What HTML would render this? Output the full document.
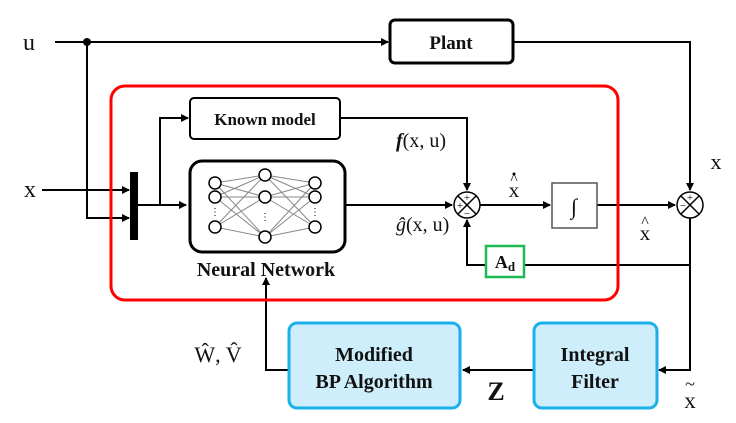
<!DOCTYPE html><html><head><style>
body{margin:0;background:#fff}
svg text{font-family:"Liberation Serif",serif;fill:#111}
</style></head><body>
<svg width="736" height="418" viewBox="0 0 736 418" xmlns="http://www.w3.org/2000/svg">
<defs><marker id="a" markerWidth="8" markerHeight="8" refX="7" refY="4" orient="auto" markerUnits="userSpaceOnUse"><path d="M0,0 L8,4 L0,8 z" fill="#000"/></marker></defs>
<g stroke="#000" stroke-width="2" fill="none">
<line x1="55" y1="42" x2="388" y2="42" marker-end="url(#a)"/>
<polyline points="513,42 690,42 690,190" marker-end="url(#a)"/>
<polyline points="87,42 87,218 129,218" marker-end="url(#a)"/>
<line x1="42" y1="190" x2="129" y2="190" marker-end="url(#a)"/>
<line x1="137" y1="205" x2="186" y2="205" marker-end="url(#a)"/>
<polyline points="160,205 160,118 188,118" marker-end="url(#a)"/>
<polyline points="340,118 467,118 467,190" marker-end="url(#a)"/>
<line x1="345" y1="205" x2="452" y2="205" marker-end="url(#a)"/>
<line x1="480" y1="205" x2="550" y2="205" marker-end="url(#a)"/>
<line x1="597" y1="205" x2="675" y2="205" marker-end="url(#a)"/>
<polyline points="690,218 690,265 524,265"/>
<polyline points="485,265 467,265 467,220" marker-end="url(#a)"/>
<polyline points="690,265 690,370 659,370" marker-end="url(#a)"/>
<line x1="533" y1="370" x2="463" y2="370" marker-end="url(#a)"/>
<polyline points="289,370 266,370 266,278" marker-end="url(#a)"/>
</g>
<circle cx="87" cy="42" r="4" fill="#000"/>
<rect x="130" y="172" width="8" height="68" fill="#000"/>
<rect x="390" y="20" width="123" height="43" rx="5" fill="#fff" stroke="#000" stroke-width="3"/>
<text x="451" y="49" text-anchor="middle" font-size="19" font-weight="bold">Plant</text>
<rect x="111" y="86" width="507" height="214" rx="14" fill="none" stroke="#f00" stroke-width="3"/>
<rect x="190" y="98" width="150" height="41" rx="4" fill="#fff" stroke="#000" stroke-width="2"/>
<text x="265" y="125" text-anchor="middle" font-size="17" font-weight="bold">Known model</text>
<rect x="190" y="161" width="155" height="91" rx="12" fill="#fff" stroke="#000" stroke-width="3"/>
<g stroke="#888" stroke-width="1">
<path d="M215,183 L265,175 M215,183 L265,197 M215,183 L265,237 M215,197 L265,175 M215,197 L265,197 M215,197 L265,237 M215,227 L265,175 M215,227 L265,197 M215,227 L265,237 M265,175 L315,183 M265,175 L315,197 M265,175 L315,227 M265,197 L315,183 M265,197 L315,197 M265,197 L315,227 M265,237 L315,183 M265,237 L315,197 M265,237 L315,227"/>
</g>
<g fill="#fff" stroke="#000" stroke-width="1.5">
<circle cx="215" cy="183" r="6"/><circle cx="215" cy="197" r="6"/><circle cx="215" cy="227" r="6"/>
<circle cx="265" cy="175" r="6"/><circle cx="265" cy="197" r="6"/><circle cx="265" cy="237" r="6"/>
<circle cx="315" cy="183" r="6"/><circle cx="315" cy="197" r="6"/><circle cx="315" cy="227" r="6"/>
</g>
<text x="215" y="215" text-anchor="middle" font-size="10" fill="#777">⋮</text>
<text x="265" y="220" text-anchor="middle" font-size="10" fill="#777">⋮</text>
<text x="315" y="215" text-anchor="middle" font-size="10" fill="#777">⋮</text>
<text x="266" y="276" text-anchor="middle" font-size="20" font-weight="bold">Neural Network</text>
<text x="396" y="147" font-size="20"><tspan font-style="italic" font-weight="bold">f</tspan>(x, u)</text>
<text x="396" y="231" font-size="20"><tspan font-style="italic">ĝ</tspan>(x, u)</text>
<g stroke="#000" stroke-width="1.5" fill="#fff">
<circle cx="467" cy="205" r="13"/><path d="M458,196 L476,214 M476,196 L458,214" fill="none"/>
<circle cx="690" cy="205" r="13"/><path d="M681,196 L699,214 M699,196 L681,214" fill="none"/>
</g>
<g font-size="11">
<text x="467" y="201" text-anchor="middle">+</text>
<text x="460" y="209" text-anchor="middle">+</text>
<text x="467" y="217" text-anchor="middle">−</text>
<text x="690" y="201" text-anchor="middle">+</text>
<text x="683" y="209" text-anchor="middle">−</text>
</g>
<text x="514" y="197" text-anchor="middle" font-size="21">x</text>
<text x="514" y="184" text-anchor="middle" font-size="16">^</text>
<circle cx="514" cy="174" r="1.5" fill="#000"/>
<rect x="552" y="183" width="45" height="45" fill="#fff" stroke="#555" stroke-width="1.5"/>
<text x="574" y="214" text-anchor="middle" font-size="22" font-style="italic">∫</text>
<text x="645" y="240" text-anchor="middle" font-size="21">x</text>
<text x="645" y="227" text-anchor="middle" font-size="16">^</text>
<text x="716" y="169" text-anchor="middle" font-size="22">x</text>
<rect x="486" y="246" width="38" height="31" fill="#fff" stroke="#1db954" stroke-width="2.5"/>
<text x="505" y="268" text-anchor="middle" font-size="18" font-weight="bold">A<tspan font-size="13" dy="3">d</tspan></text>
<text x="29" y="50" text-anchor="middle" font-size="24">u</text>
<text x="30" y="197" text-anchor="middle" font-size="24">x</text>
<rect x="289" y="323" width="171" height="85" rx="8" fill="#cdeefa" stroke="#1ab0ea" stroke-width="3"/>
<text x="374" y="361" text-anchor="middle" font-size="20" font-weight="bold">Modified</text>
<text x="374" y="388" text-anchor="middle" font-size="20" font-weight="bold">BP Algorithm</text>
<rect x="534" y="323" width="123" height="85" rx="8" fill="#cdeefa" stroke="#1ab0ea" stroke-width="3"/>
<text x="595" y="361" text-anchor="middle" font-size="20" font-weight="bold">Integral</text>
<text x="595" y="388" text-anchor="middle" font-size="20" font-weight="bold">Filter</text>
<text x="496" y="400" text-anchor="middle" font-size="26" font-weight="bold">Z</text>
<text x="690" y="408" text-anchor="middle" font-size="23">x</text>
<text x="690" y="390" text-anchor="middle" font-size="18">~</text>
<text x="218" y="362" text-anchor="middle" font-size="22">Ŵ, V̂</text>
</svg>
</body></html>
